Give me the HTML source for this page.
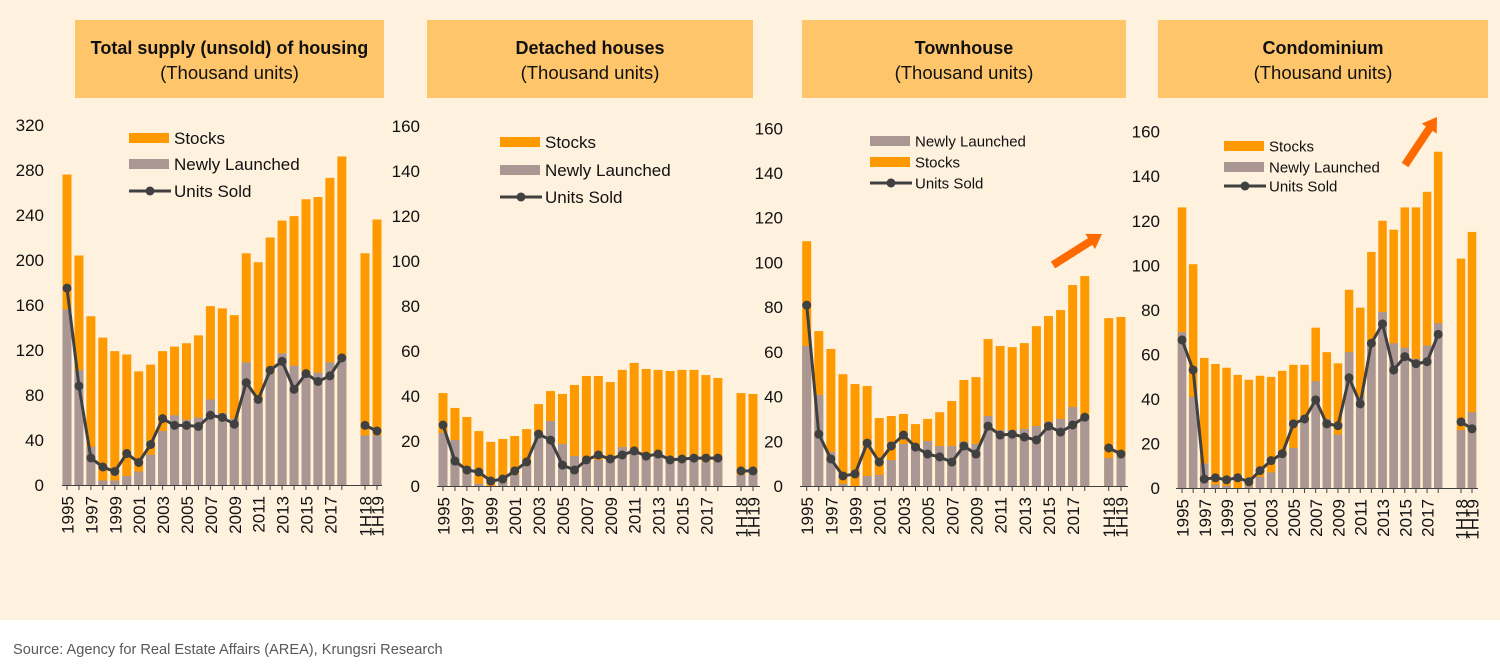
<!DOCTYPE html>
<html><head><meta charset="utf-8">
<style>
html,body{margin:0;padding:0;background:#fff;}
body{width:1500px;height:669px;overflow:hidden;font-family:"Liberation Sans",sans-serif;}
svg{display:block}
</style></head>
<body>
<svg id="s" width="1500" height="669" xmlns="http://www.w3.org/2000/svg" font-family="Liberation Sans, sans-serif">
<rect x="0" y="0" width="1500" height="620" fill="#fef1de"/>
<text x="13" y="654" font-size="14.6" fill="#595959">Source: Agency for Real Estate Affairs (AREA), Krungsri Research</text>
</svg>
<script>
var S=document.getElementById('s');var NS='http://www.w3.org/2000/svg';
function el(t,a,txt){var e=document.createElementNS(NS,t);for(var k in a)e.setAttribute(k,a[k]);if(txt!=null)e.textContent=txt;S.appendChild(e);return e;}
var OR='#fe9a00',GR='#aa9693',LN='#404040';
var P=[
{bx:[75,384],t:'Total supply (unsold) of housing',y0:485,ytop:125,max:320,step:40,tx:44,x0:67,dx:11.95,xh:[365,377],bw:9,ax:[62,382],
 tot:[276,204,150,131,119,116,101,107,119,123,126,133,159,157,151,206,198,220,235,239,254,256,273,292,206,236],
 nl:[156,102,34,4,4,8,12,27,48,62,58,60,76,64,59,109,75,99,117,106,99,100,109,114,44,44],
 so:[175,88,24,16,12,28,20,36,59,53,53,52,62,60,54,91,76,102,110,85,99,92,97,113,53,48],
 lg:{x:129,ys:[138,164,191],order:['s','n','u'],fs:17}},
{bx:[427,753],t:'Detached houses',y0:486,ytop:126,max:160,step:20,tx:420,x0:443,dx:11.95,xh:[741,753],bw:9,ax:[437,760],
 tot:[41.3,34.7,30.7,24.4,19.6,20.9,22.2,25.3,36.4,42.2,40.9,44.9,48.9,48.9,46.2,51.6,54.7,52,51.6,51.1,51.6,51.6,49.3,48,41.3,40.9],
 nl:[23.6,20.4,8.6,1,0,2,5,10,23,28.9,18.7,13.3,11.6,11.6,12.3,17.3,16,13,13.8,12.3,13,13,10.7,13,4.9,6.4],
 so:[27.1,11.1,7.1,6.2,2.2,3.1,6.7,10.7,23.1,20.4,9.3,7.1,11.6,13.8,12,13.8,15.6,13.3,14.2,11.6,12,12.4,12.4,12.4,6.7,6.7],
 lg:{x:500,ys:[142,170,197],order:['s','n','u'],fs:17}},
{bx:[802,1126],t:'Townhouse',y0:486,ytop:128.3,max:160,step:20,tx:783,x0:806.7,dx:12.09,xh:[1108.7,1121],bw:9,ax:[800,1128],
 tot:[109.5,69.3,61.3,50,45.6,44.7,30.4,31.3,32.2,27.7,30,33,38,47.4,48.7,65.7,62.6,62.1,63.9,71.5,76,78.7,89.9,93.9,75.1,75.6],
 nl:[62.6,40.7,15.2,1,0,4.5,4.9,11.6,18.8,17.6,20.1,17.9,17.9,19.8,18.8,31.3,25,25,25.5,26.8,28.8,30,35.3,31.7,12.5,13.1],
 so:[80.9,23.2,12.1,4.5,5.4,19.2,10.7,17.9,22.8,17.4,14.3,13,10.7,17.9,14.3,26.8,22.8,23.2,21.9,20.6,26.8,24.1,27.3,30.8,17,14.3],
 lg:{x:870,ys:[141,162,183],order:['n','s','u'],fs:15},arrow:[1053,265,1102,234]},
{bx:[1158,1488],t:'Condominium',y0:488,ytop:131.7,max:160,step:20,tx:1160,x0:1182,dx:11.14,xh:[1461,1472],bw:8.5,ax:[1176,1478],
 tot:[126,100.5,58.4,55.7,54,50.8,48.6,50.4,49.9,52.6,55.3,55.3,72,61,56,89,81,106,120,116,126,126,133,151,103,115],
 nl:[70,41,11,1.5,1,0,1,5,7,16,18,30,48,31,24,61,41,65,79,65,63,58,64,74,26,34],
 so:[66.5,53,4,4.6,3.7,4.6,2.8,7.8,12.3,15.4,28.8,31,39.6,28.8,28,49.5,37.8,65,73.7,53,59,55.8,56.7,69,29.7,26.6],
 lg:{x:1224,ys:[146,167,186],order:['s','n','u'],fs:15},arrow:[1405,165,1437,117]}
];
P.forEach(function(p){
  el('rect',{x:p.bx[0],y:20,width:p.bx[1]-p.bx[0],height:78,fill:'#fec56a'});
  var cx=(p.bx[0]+p.bx[1])/2;
  el('text',{x:cx,y:54,'font-size':18,'font-weight':'bold','text-anchor':'middle',fill:'#111'},p.t);
  el('text',{x:cx,y:79,'font-size':18.5,'text-anchor':'middle',fill:'#111'},'(Thousand units)');
  var k=(p.y0-p.ytop)/p.max;
  function Y(v){return p.y0-v*k;}
  for(var v=0;v<=p.max;v+=p.step){
    el('text',{x:p.tx,y:Y(v)+6,'font-size':17,'text-anchor':'end',fill:'#111'},v);
  }
  var xs=[];for(var i=0;i<24;i++)xs.push(p.x0+i*p.dx);xs.push(p.xh[0],p.xh[1]);
  xs.forEach(function(x,i){
    el('rect',{x:x-p.bw/2,y:Y(p.tot[i]),width:p.bw,height:Y(0)-Y(p.tot[i]),fill:OR});
    el('rect',{x:x-p.bw/2,y:Y(p.nl[i]),width:p.bw,height:Y(0)-Y(p.nl[i]),fill:GR});
  });
  el('line',{x1:p.ax[0],y1:p.y0+0.5,x2:p.ax[1],y2:p.y0+0.5,stroke:'#404040','stroke-width':1});
  xs.forEach(function(x,i){el('line',{x1:x,y1:p.y0,x2:x,y2:p.y0+5,stroke:'#404040','stroke-width':1});});
  var d1='',d2='';
  for(var i=0;i<24;i++)d1+=(i?'L':'M')+xs[i]+' '+Y(p.so[i]);
  d2='M'+xs[24]+' '+Y(p.so[24])+'L'+xs[25]+' '+Y(p.so[25]);
  el('path',{d:d1,fill:'none',stroke:LN,'stroke-width':3});
  el('path',{d:d2,fill:'none',stroke:LN,'stroke-width':3});
  xs.forEach(function(x,i){el('circle',{cx:x,cy:Y(p.so[i]),r:4.5,fill:LN});});
  xs.forEach(function(x,i){
    var lab=null;
    if(i<24&&i%2==0)lab=String(1995+i);
    if(i==24)lab='1H18';if(i==25)lab='1H19';
    if(lab){var ty=p.y0+11;
      el('text',{x:0,y:0,'font-size':17,'text-anchor':'end',fill:'#111',transform:'translate('+(x+6.5)+','+ty+') rotate(-90)'},lab);}
  });
  var L=p.lg;
  L.order.forEach(function(o,j){
    var y=L.ys[j];
    if(o=='s'){el('rect',{x:L.x,y:y-5,width:40,height:10,fill:OR});}
    else if(o=='n'){el('rect',{x:L.x,y:y-5,width:40,height:10,fill:GR});}
    else{el('line',{x1:L.x,y1:y,x2:L.x+42,y2:y,stroke:LN,'stroke-width':3});el('circle',{cx:L.x+21,cy:y,r:4.5,fill:LN});}
    el('text',{x:L.x+45,y:y+L.fs*0.36,'font-size':L.fs,fill:'#111'},o=='s'?'Stocks':o=='n'?'Newly Launched':'Units Sold');
  });
  if(p.arrow){
    var a=p.arrow,dx=a[2]-a[0],dy=a[3]-a[1],len=Math.sqrt(dx*dx+dy*dy),ux=dx/len,uy=dy/len,nx=-uy,ny=ux;
    var hb=[a[2]-ux*14,a[3]-uy*14];
    var pts=[[a[0]+nx*4,a[1]+ny*4],[hb[0]+nx*4,hb[1]+ny*4],[hb[0]+nx*9,hb[1]+ny*9],[a[2],a[3]],[hb[0]-nx*9,hb[1]-ny*9],[hb[0]-nx*4,hb[1]-ny*4],[a[0]-nx*4,a[1]-ny*4]];
    el('polygon',{points:pts.map(function(q){return q.join(',')}).join(' '),fill:'#ff6a00'});
  }
});
</script>
</body></html>
